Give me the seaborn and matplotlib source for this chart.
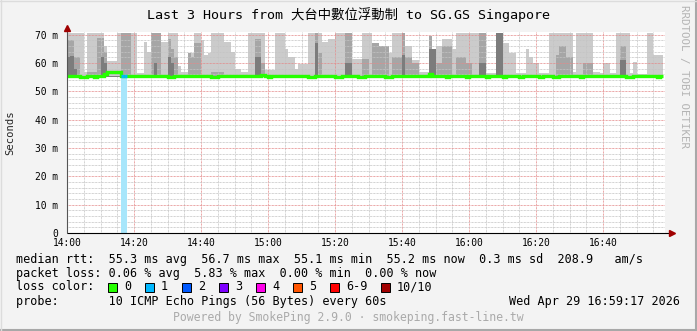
import numpy as np
import pandas as pd
import matplotlib
matplotlib.use("Agg")
import matplotlib.pyplot as plt
import seaborn as sns
from matplotlib.patches import Rectangle
from matplotlib.lines import Line2D
from matplotlib.ticker import MultipleLocator

# ---------------- data (one value per minute from 14:00) ----------------
top_ms = [70.8,70.8,70.8,70.8,70.8,56.7,70.8,70.8,70.8,70.8,
          70.8,66.0,60.6,60.6,60.6,70.8,70.8,70.8,70.8,70.8,
          70.8,56.5,56.5,67.3,63.9,70.8,70.8,70.8,67.5,67.5,
          70.8,70.8,70.8,59.0,57.0,57.0,63.7,63.7,70.8,70.8,
          68.0,63.0,63.7,70.8,70.8,70.8,70.8,67.5,67.5,64.0,
          58.0,58.0,57.0,57.0,70.8,70.8,70.8,70.8,70.8,57.5,
          57.5,57.5,70.8,70.8,70.8,65.0,62.0,62.0,58.0,59.6,
          59.6,59.6,70.8,70.8,70.8,70.8,67.3,67.3,68.5,68.5,
          70.8,70.8,70.8,70.8,70.8,61.5,61.5,61.5,70.8,70.8,
          70.8,67.0,67.0,66.0,66.0,66.0,63.5,70.8,70.8,70.8,
          70.8,66.0,66.0,61.0,61.0,56.7,56.7,56.7,69.5,65.0,
          66.0,66.0,68.5,68.5,68.5,65.0,70.8,70.8,70.8,70.8,
          70.8,70.8,70.8,70.8,70.8,56.5,56.5,56.5,70.8,70.8,
          67.0,67.0,63.7,63.7,56.5,56.5,56.5,65.0,62.0,60.0,
          60.0,56.5,56.5,56.5,70.8,70.8,70.8,70.8,70.8,70.8,
          70.8,57.0,70.8,70.8,70.8,70.8,70.8,57.0,57.0,56.5,
          60.0,60.0,56.5,56.5,70.8,70.8,70.8,70.8,56.5,60.5,
          56.0,56.0,56.0,70.8,70.8,63.0,63.0,63.0]

mid_ms = [68.0,68.0,62.0,62.0,55.6,55.6,57.0,57.0,57.0,69.0,
          69.0,64.0,55.6,55.6,55.6,55.6,70.8,70.8,70.8,55.6,
          55.6,55.6,55.6,55.6,55.6,70.8,70.8,70.8,55.6,55.6,
          68.5,65.0,62.0,55.6,55.6,55.6,63.7,62.0,67.0,67.0,
          55.6,55.6,55.6,57.0,57.0,57.0,57.0,55.6,55.6,55.6,
          55.6,55.6,55.6,55.6,55.6,55.6,68.5,68.5,60.0,55.6,
          55.6,55.6,55.6,55.6,55.6,55.6,55.6,55.6,55.6,55.6,
          55.6,55.6,55.6,55.6,70.8,63.7,55.6,55.6,55.6,55.6,
          55.6,55.6,55.6,70.8,70.8,55.6,55.6,55.6,61.5,61.5,
          55.6,67.0,67.0,66.0,66.0,66.0,55.6,62.0,62.0,62.0,
          70.8,62.0,62.0,60.0,60.0,55.6,55.6,55.6,69.5,65.0,
          60.0,60.0,66.0,66.0,66.0,55.6,62.0,62.0,62.0,60.0,
          60.0,55.6,55.6,70.8,70.8,55.6,55.6,55.6,70.8,70.8,
          55.6,55.6,55.6,55.6,55.6,55.6,55.6,55.6,55.6,55.6,
          55.6,55.6,55.6,55.6,55.6,55.6,63.0,66.0,66.0,62.0,
          62.0,55.6,55.6,55.6,60.0,60.0,60.0,55.6,55.6,55.6,
          55.6,55.6,55.6,55.6,55.6,66.0,66.0,55.6,55.6,55.6,
          55.6,55.6,55.6,55.6,55.6,55.6,55.6,55.6]

dark_ms = [62.0,62.5,58.0,55.6,55.6,55.6,55.6,55.6,55.6,55.6,
           62.0,60.0,55.6,55.6,55.6,55.6,55.6,55.6,55.6,55.6,
           55.6,55.6,55.6,55.6,55.6,55.6,60.0,55.6,55.6,55.6,
           62.0,60.0,55.6,55.6,55.6,55.6,55.6,55.6,55.6,55.6,
           55.6,55.6,55.6,55.6,55.6,55.6,55.6,55.6,55.6,55.6,
           55.6,55.6,55.6,55.6,55.6,55.6,62.0,62.0,55.6,55.6,
           55.6,55.6,55.6,55.6,55.6,55.6,55.6,55.6,55.6,55.6,
           55.6,55.6,55.6,55.6,67.0,55.6,55.6,55.6,55.6,55.6,
           55.6,55.6,55.6,60.0,60.0,55.6,55.6,55.6,55.6,55.6,
           55.6,55.6,55.6,55.6,55.6,55.6,55.6,55.6,55.6,55.6,
           63.0,55.6,55.6,55.6,55.6,55.6,55.6,55.6,65.0,65.0,
           55.6,55.6,55.6,55.6,55.6,55.6,55.6,55.6,55.6,55.6,
           55.6,55.6,55.6,60.0,60.0,55.6,55.6,55.6,70.8,70.8,
           55.6,55.6,55.6,55.6,55.6,55.6,55.6,55.6,55.6,55.6,
           55.6,55.6,55.6,55.6,55.6,55.6,55.6,55.6,55.6,55.6,
           55.6,55.6,55.6,55.6,55.6,55.6,55.6,55.6,55.6,55.6,
           55.6,55.6,55.6,55.6,55.6,61.0,61.0,55.6,55.6,55.6,
           55.6,55.6,55.6,55.6,55.6,55.6,55.6,55.6]

median_ms = [55.6,55.4,55.4,55.4,55.2,55.2,55.4,55.4,55.2,55.4,
             55.6,56.2,56.7,56.7,56.7,56.7,55.6,55.5,55.4,55.4,
             55.4,55.3,55.3,55.3,55.3,55.4,55.6,55.4,55.4,55.3,
             55.2,55.2,55.4,55.4,55.4,55.4,55.4,55.3,55.3,55.3,
             55.4,55.4,55.4,55.2,55.2,55.3,55.3,55.3,55.4,55.4,
             55.4,55.4,55.4,55.4,55.4,55.4,55.4,55.6,55.8,55.4,
             55.2,55.3,55.3,55.3,55.4,55.4,55.4,55.4,55.4,55.4,
             55.4,55.4,55.2,55.2,55.4,55.4,55.4,55.4,55.4,55.4,
             55.2,55.2,55.4,55.6,55.4,55.4,55.4,55.2,55.2,55.4,
             55.4,55.4,55.4,55.4,55.4,55.2,55.2,55.4,55.4,55.4,
             55.4,55.4,55.4,55.4,55.3,55.4,55.3,55.6,56.0,55.4,
             55.4,55.4,55.4,55.2,55.4,55.4,55.4,55.4,55.4,55.2,
             55.4,55.4,55.4,55.4,55.4,55.2,55.4,55.4,55.4,55.4,
             55.2,55.4,55.4,55.4,55.4,55.2,55.4,55.4,55.4,55.4,
             55.4,55.2,55.4,55.4,55.4,55.2,55.2,55.4,55.4,55.4,
             55.4,55.4,55.4,55.2,55.4,55.4,55.4,55.4,55.4,55.4,
             55.4,55.4,55.4,55.4,55.4,55.4,55.4,55.2,55.2,55.4,
             55.4,55.4,55.4,55.4,55.4,55.4,55.2,55.4]

loss_pings = [0,0,0,0,0,0,0,0,0,0,
              0,0,0,0,0,0,1,1,0,0,
              0,0,0,0,0,0,0,0,0,0,
              0,0,0,0,0,0,0,0,0,0,
              0,0,0,0,0,0,0,0,0,0,
              0,0,0,0,0,0,0,0,0,0,
              0,0,0,0,0,0,0,0,0,0,
              0,0,0,0,0,0,0,0,0,0,
              0,0,0,0,0,0,0,0,0,0,
              0,0,0,0,0,0,0,0,0,0,
              0,0,0,0,0,0,0,0,0,0,
              0,0,0,0,0,0,0,0,0,0,
              0,0,0,0,0,0,0,0,0,0,
              0,0,0,0,0,0,0,0,0,0,
              0,0,0,0,0,0,0,0,0,0,
              0,0,0,0,0,0,0,0,0,0,
              0,0,0,0,0,0,0,0,0,0,
              0,0,0,0,0,0,0,0]

smoke_floor = 55.0
x_tick_minutes = [0, 20, 40, 60, 80, 100, 120, 140, 160]
x_tick_labels = ["14:00", "14:20", "14:40", "15:00", "15:20", "15:40", "16:00", "16:20", "16:40"]
y_ticks = [0, 10, 20, 30, 40, 50, 60, 70]
y_tick_labels = ["0", "10 m", "20 m", "30 m", "40 m", "50 m", "60 m", "70 m"]

loss_legend_labels = ["0", "1", "2", "3", "4", "5", "6-9", "10/10"]
loss_legend_colors = ["#26ff00", "#00b8ff", "#0059ff", "#7e00ff", "#ff00ea", "#ff5500", "#ff0000", "#a10000"]
loss_color_by_count = {0: "#26ff00", 1: "#00b8ff", 2: "#0059ff", 3: "#7e00ff",
                       4: "#ff00ea", 5: "#ff5500", 6: "#ff0000", 10: "#a10000"}

title = "Last 3 Hours from 大台中數位浮動制 to SG.GS Singapore"
legend_lines = [
    "median rtt:  55.3 ms avg  56.7 ms max  55.1 ms min  55.2 ms now  0.3 ms sd  208.9   am/s",
    "packet loss: 0.06 % avg  5.83 % max  0.00 % min  0.00 % now",
    "loss color:",
    "probe:       10 ICMP Echo Pings (56 Bytes) every 60s",
]
date_text = "Wed Apr 29 16:59:17 2026"
powered_text = "Powered by SmokePing 2.9.0 · smokeping.fast-line.tw"
side_text = "RRDTOOL / TOBI OETIKER"

# ---------------- styling ----------------
sns.set_theme(style="white")
plt.rcParams["font.family"] = ["DejaVu Sans Mono", "Noto Sans CJK TC"]
plt.rcParams["path.simplify"] = False
BG = "#f3f3f3"
W, H = 697, 331

fig = plt.figure(figsize=(W / 100, H / 100), dpi=100, facecolor=BG)


def fx(px):
    return px / W


def fy(py):
    return 1 - py / H


ax = fig.add_axes([fx(67), fy(233), fx(665) - fx(67), fy(32) - fy(233)])
ax.set_facecolor("white")

n = len(top_ms)
xs = np.arange(n + 1)


def ext(a):
    a = np.asarray(a, dtype=float)
    return np.append(a, a[-1])


top = np.asarray(top_ms)
mid = np.asarray(mid_ms)
dark = np.asarray(dark_ms)
med = np.asarray(median_ms)
loss = np.asarray(loss_pings)

# smoke
ax.fill_between(xs, smoke_floor, ext(top), step="post", color="#cbcbcb", lw=0, zorder=1)
ax.fill_between(xs, smoke_floor, ext(mid), step="post", color="#a6a6a6", lw=0, zorder=2)
ax.fill_between(xs, smoke_floor, ext(dark), step="post", color="#7c7c7c", lw=0, zorder=3)

# loss bar (light tint of loss colour from 0 to median)
loss_bar = np.where(loss > 0, med, 0.0)
ax.fill_between(xs, 0, ext(loss_bar), step="post", color="#a8e6fb", lw=0, zorder=4)

# median line as explicit steps (each minute a flat segment)
step_x = np.repeat(xs, 2)[1:-1]
step_y = np.repeat(med, 2)
df = pd.DataFrame({"minute": step_x, "median": step_y})
sns.lineplot(data=df, x="minute", y="median", estimator=None, sort=False,
             color=loss_color_by_count[0], lw=2.4, ax=ax, zorder=6,
             solid_joinstyle="miter", solid_capstyle="butt")
mask = loss > 0
if mask.any():
    cols = [loss_color_by_count[int(v)] for v in loss[mask]]
    ax.hlines(med[mask], np.arange(n)[mask], np.arange(n)[mask] + 1,
              colors=cols, lw=2.4, zorder=7)

ax.set_xlim(0, 178.5)
ax.set_ylim(0, 71.0)
ax.set_xlabel("")
ax.set_ylabel("")

ax.set_xticks(x_tick_minutes)
ax.set_xticklabels(x_tick_labels)
ax.set_yticks(y_ticks)
ax.set_yticklabels(y_tick_labels)
ax.xaxis.set_minor_locator(MultipleLocator(5))
ax.yaxis.set_minor_locator(MultipleLocator(2))
ax.tick_params(axis="both", which="both", length=0)
ax.tick_params(axis="x", labelsize=6.9, pad=3.5, colors="black")
ax.tick_params(axis="y", labelsize=6.9, pad=6.5, colors="black")

dot = (0, (0.72, 0.72))
ax.grid(which="minor", color="#c4c4c4", linestyle=dot, lw=0.72, zorder=8)
ax.grid(which="major", color="#e48a8a", linestyle=dot, lw=0.72, zorder=9)
ax.set_axisbelow(False)
for s in ax.spines.values():
    s.set_visible(False)

# axes with arrows
ax.plot([0, 1.011], [0, 0], transform=ax.transAxes, color="black", lw=0.8, clip_on=False, zorder=10)
ax.plot([0, 0], [0, 1.02], transform=ax.transAxes, color="#555555", lw=0.8, clip_on=False, zorder=10)
ax.plot([1.011], [0], transform=ax.transAxes, marker=">", ms=4, color="#a00000", clip_on=False, zorder=11)
ax.plot([0], [1.02], transform=ax.transAxes, marker="^", ms=4, color="#a00000", clip_on=False, zorder=11)

# ---------------- texts ----------------
fig.text(0.5, fy(15), title, ha="center", va="center", fontsize=9.6,
         family=["DejaVu Sans Mono", "Noto Sans CJK TC"], color="black")
fig.text(fx(10), fy(133), "Seconds", rotation=90, ha="center", va="center", fontsize=7.6)
fig.text(fx(684), fy(5), side_text, rotation=270, ha="center", va="top",
         fontsize=7.8, color="#b4b4b4")

line_y = [259, 273, 287, 301]
for txt, yy in zip(legend_lines, line_y):
    fig.text(fx(16), fy(yy), txt, ha="left", va="center", fontsize=8.5, color="black")
fig.text(fx(680), fy(301), date_text, ha="right", va="center", fontsize=8.5, color="black")
fig.text(0.5, fy(318), powered_text, ha="center", va="center", fontsize=8.3, color="#aaaaaa")

box_x = [108, 145, 182, 219, 256, 293, 330, 381]
for bx, lab, c in zip(box_x, loss_legend_labels, loss_legend_colors):
    fig.add_artist(Rectangle((fx(bx), fy(292)), 8.5 / W, 9.5 / H, transform=fig.transFigure,
                             facecolor=c, edgecolor="black", lw=0.7))
    fig.text(fx(bx + 16), fy(287), lab, ha="left", va="center", fontsize=8.5, color="black")

# frame
fig.add_artist(Line2D([0, 1], [fy(330), fy(330)], transform=fig.transFigure, color="#a8a8a8", lw=1.5))
fig.add_artist(Line2D([fx(696), fx(696)], [0, 1], transform=fig.transFigure, color="#a8a8a8", lw=1.5))
fig.add_artist(Line2D([0, 1], [fy(0.5), fy(0.5)], transform=fig.transFigure, color="#dcdcdc", lw=1))
fig.add_artist(Line2D([fx(0.5), fx(0.5)], [0, 1], transform=fig.transFigure, color="#dcdcdc", lw=1))

fig.savefig("out.png", dpi=100, facecolor=BG)
